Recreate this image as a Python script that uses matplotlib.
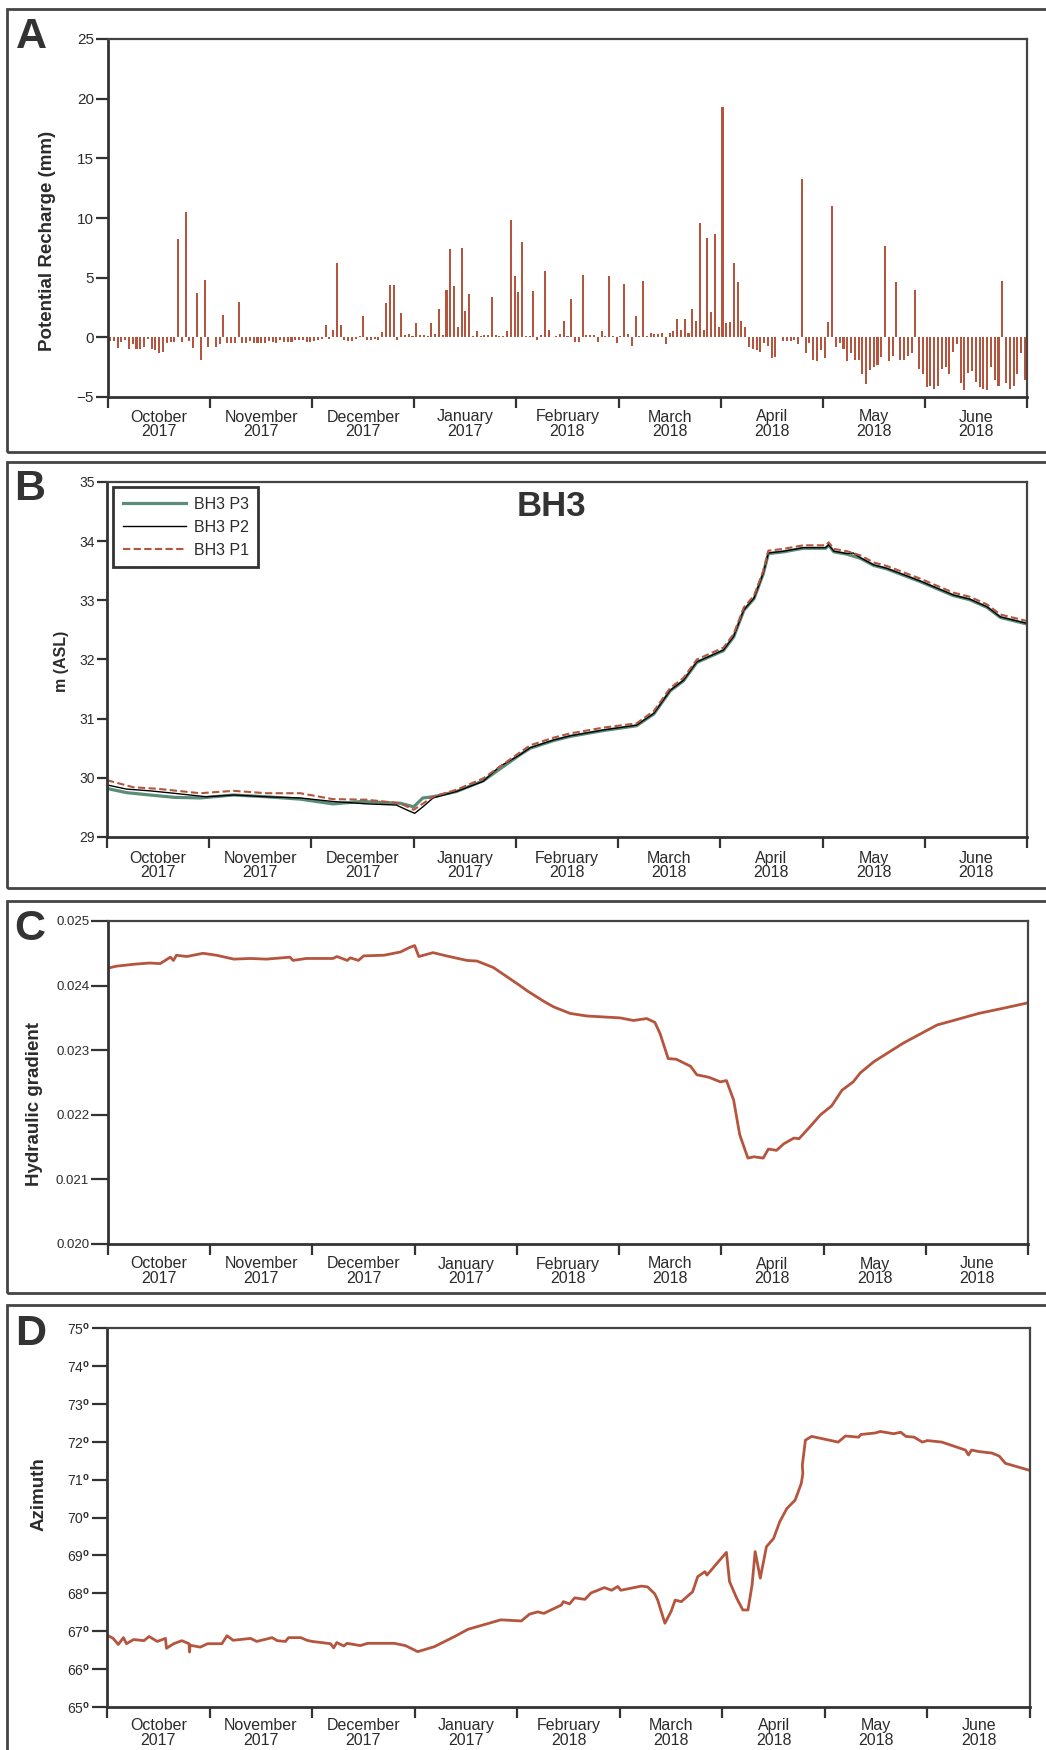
import matplotlib
matplotlib.use("Agg")
import matplotlib.pyplot as plt
import numpy as np
from matplotlib.patches import Rectangle

plt.rcParams['font.family'] = ['Liberation Sans', 'DejaVu Sans']
plt.rcParams['mathtext.fontset'] = 'custom'
plt.rcParams['mathtext.rm'] = 'Liberation Sans'
plt.rcParams['mathtext.bf'] = 'Liberation Sans:bold'

# months on the x axis (one unit = one month, Oct 2017 .. Jun 2018)
months = ['October\n2017', 'November\n2017', 'December\n2017', 'January\n2017',
          'February\n2018', 'March\n2018', 'April\n2018', 'May\n2018', 'June\n2018']

# A: daily potential recharge (mm)
recharge = [
    -0.3, -0.3, -0.9, -0.4, -0.2, -1.0, -0.6, -1.0, -1.0, -0.8,
    -0.1, -1.0, -1.1, -1.3, -1.2, -0.5, -0.4, -0.4, 8.2, -0.4,
    10.5, -0.3, -0.9, 3.7, -1.9, 4.8, -0.8, 0.0, -0.8, -0.6,
    1.9, -0.5, -0.5, -0.5, 3.0, -0.5, -0.5, -0.3, -0.5, -0.5,
    -0.5, -0.5, -0.3, -0.4, -0.5, -0.2, -0.4, -0.4, -0.4, -0.2,
    -0.2, -0.2, -0.4, -0.4, -0.3, -0.2, -0.1, 1.0, -0.1, 0.6,
    6.2, 1.0, -0.2, -0.3, -0.3, -0.1, 0.1, 1.8, -0.2, -0.2,
    -0.1, -0.2, 0.45, 2.9, 4.4, 4.4, -0.2, 2.0, 0.2, 0.25,
    0.15, 1.2, 0.2, 0.2, 0.1, 1.2, 0.3, 2.4, 0.2, 4.0,
    7.4, 4.3, 0.9, 7.5, 2.2, 3.6, 0.15, 0.5, 0.15, 0.2,
    0.2, 3.4, 0.2, 0.15, 0.15, 0.5, 9.8, 5.1, 3.8, 8.0,
    0.1, 0.1, 3.9, -0.2, 0.2, 5.6, 0.6, 0.0, 0.1, 0.3,
    1.4, 0.15, 3.2, -0.35, -0.4, 5.2, 0.2, 0.2, 0.2, -0.35,
    0.5, 0.15, 5.1, 0.15, -0.5, 0.15, 4.5, 0.3, -0.7, 1.8,
    0.15, 4.7, 0.1, 0.35, 0.25, 0.25, 0.4, -0.6, 0.35, 0.55,
    1.5, 0.6, 1.5, 0.4, 2.4, 1.35, 9.6, 0.6, 8.3, 2.1,
    8.7, 0.85, 19.3, 1.2, 1.3, 6.2, 4.65, 1.35, 0.9, -0.8,
    -1.0, -1.1, -1.2, -0.5, -0.7, -1.7, -1.65, 0.0, -0.3, -0.3,
    -0.3, -0.2, -0.6, 13.3, -1.35, -0.5, -1.9, -2.0, -1.1, -1.7,
    1.3, 11.0, -0.85, -0.5, -0.95, -1.95, -1.35, -1.9, -1.9, -3.05,
    -3.95, -2.7, -2.45, -2.3, -1.65, 7.65, -2.0, -1.6, 4.65, -1.9,
    -1.9, -1.55, -1.35, 4.0, -2.65, -3.05, -4.15, -4.05, -4.35, -4.1,
    -2.65, -2.45, -3.05, -1.25, -0.55, -3.85, -4.45, -2.95, -2.85, -3.75,
    -4.15, -4.3, -4.45, -2.45, -3.55, -4.1, 4.75, -3.85, -4.3, -4.1,
    -3.05, -1.3, -3.6]
recharge_days = np.linspace(0.02, 8.98, len(recharge))

# B: groundwater level, m ASL
p2_t = [0.0, 0.19, 0.42, 0.65, 0.97, 1.24, 1.56, 1.89, 2.21, 2.54, 2.83, 2.93, 3.01, 3.09,
        3.19, 3.42, 3.68, 3.84, 4.04, 4.14, 4.37, 4.53, 4.86, 5.18, 5.35, 5.51, 5.64, 5.77,
        6.03, 6.13, 6.23, 6.33, 6.42, 6.47, 6.62, 6.81, 7.03, 7.06, 7.11, 7.24, 7.30, 7.37,
        7.50, 7.63, 7.95, 8.28, 8.44, 8.61, 8.74, 9.0]
p2_h = [29.88, 29.81, 29.78, 29.74, 29.68, 29.71, 29.68, 29.66, 29.60, 29.56, 29.54, 29.46,
        29.40, 29.51, 29.66, 29.77, 29.94, 30.19, 30.39, 30.51, 30.64, 30.71, 30.81, 30.89,
        31.09, 31.48, 31.65, 31.96, 32.16, 32.39, 32.84, 33.04, 33.46, 33.80, 33.83, 33.89,
        33.89, 33.94, 33.83, 33.79, 33.80, 33.72, 33.60, 33.54, 33.33, 33.09, 33.02, 32.89,
        32.72, 32.61]
p1_t = [0.0, 0.26, 0.45, 0.58, 0.91, 1.24, 1.56, 1.89, 2.21, 2.54, 2.87, 3.0, 3.19, 3.42,
        3.68, 4.04, 4.14, 4.37, 4.53, 4.86, 5.18, 5.35, 5.51, 5.64, 5.77, 6.03, 6.13, 6.23,
        6.33, 6.42, 6.47, 6.62, 6.81, 7.03, 7.06, 7.11, 7.24, 7.37, 7.50, 7.63, 7.95, 8.28,
        8.44, 8.61, 8.74, 9.0]
p1_h = [29.96, 29.84, 29.82, 29.80, 29.74, 29.78, 29.74, 29.74, 29.64, 29.63, 29.57, 29.46,
        29.68, 29.80, 29.99, 30.43, 30.55, 30.68, 30.75, 30.85, 30.92, 31.13, 31.52, 31.69,
        32.00, 32.20, 32.43, 32.88, 33.08, 33.50, 33.84, 33.87, 33.93, 33.93, 33.98, 33.87,
        33.83, 33.76, 33.64, 33.58, 33.37, 33.13, 33.06, 32.93, 32.76, 32.65]
p3_t = [0.0, 0.19, 0.42, 0.66, 0.91, 1.24, 1.56, 1.89, 2.21, 2.49, 2.87, 3.0, 3.09, 3.19,
        3.42, 3.68, 4.04, 4.14, 4.37, 4.53, 4.86, 5.18, 5.35, 5.51, 5.64, 5.77, 6.03, 6.13,
        6.23, 6.33, 6.42, 6.47, 6.62, 6.81, 7.03, 7.06, 7.11, 7.24, 7.37, 7.50, 7.63, 7.95,
        8.28, 8.44, 8.61, 8.74, 9.0]
p3_h = [29.82, 29.75, 29.71, 29.67, 29.66, 29.71, 29.68, 29.64, 29.56, 29.60, 29.57, 29.51,
        29.66, 29.68, 29.77, 29.95, 30.39, 30.50, 30.63, 30.70, 30.80, 30.88, 31.08, 31.47,
        31.64, 31.95, 32.15, 32.38, 32.83, 33.03, 33.45, 33.79, 33.82, 33.88, 33.88, 33.93,
        33.82, 33.78, 33.71, 33.59, 33.53, 33.32, 33.08, 33.01, 32.88, 32.71, 32.60]

# C: hydraulic gradient
grad_t = [0.0, 0.08, 0.25, 0.41, 0.51, 0.61, 0.64, 0.67, 0.77, 0.93, 1.06, 1.23, 1.39, 1.55,
          1.78, 1.81, 1.94, 2.2, 2.24, 2.34, 2.37, 2.45, 2.5, 2.7, 2.86, 2.95, 3.0, 3.04,
          3.18, 3.31, 3.51, 3.61, 3.77, 4.03, 4.1, 4.19, 4.27, 4.36, 4.52, 4.68, 5.01, 5.14,
          5.27, 5.35, 5.40, 5.48, 5.56, 5.70, 5.76, 5.88, 5.99, 6.05, 6.12, 6.18, 6.26, 6.32,
          6.41, 6.46, 6.54, 6.61, 6.71, 6.76, 6.87, 6.97, 7.08, 7.18, 7.29, 7.36, 7.49, 7.62,
          7.78, 8.11, 8.27, 8.52, 8.76, 8.99]
grad = [0.02427, 0.02430, 0.02433, 0.02435, 0.02434, 0.02444, 0.02439, 0.02447, 0.02445,
        0.02450, 0.02447, 0.02441, 0.02442, 0.02441, 0.02444, 0.02439, 0.02442, 0.02442,
        0.02445, 0.02439, 0.02443, 0.02439, 0.02446, 0.02447, 0.02452, 0.02459, 0.02462,
        0.02445, 0.02451, 0.02446, 0.02439, 0.02438, 0.02428, 0.02400, 0.02392, 0.02383,
        0.02375, 0.02367, 0.02357, 0.02353, 0.02350, 0.02346, 0.02349, 0.02343, 0.02326,
        0.02287, 0.02286, 0.02275, 0.02262, 0.02258, 0.02251, 0.02253, 0.02223, 0.02169,
        0.02133, 0.02135, 0.02133, 0.02147, 0.02145, 0.02155, 0.02164, 0.02163, 0.02182,
        0.02200, 0.02214, 0.02238, 0.02251, 0.02265, 0.02282, 0.02295, 0.02311, 0.02339,
        0.02346, 0.02357, 0.02365, 0.02373]

# D: flow azimuth (degrees)
azi_t = [0.0, 0.06, 0.11, 0.16, 0.19, 0.26, 0.36, 0.41, 0.49, 0.57, 0.58, 0.65, 0.73, 0.80,
         0.805, 0.81, 0.91, 0.98, 1.12, 1.17, 1.23, 1.40, 1.46, 1.61, 1.66, 1.74, 1.77, 1.89,
         1.95, 2.0, 2.18, 2.21, 2.24, 2.31, 2.34, 2.47, 2.54, 2.80, 2.91, 3.03, 3.19, 3.39,
         3.52, 3.84, 4.04, 4.12, 4.20, 4.26, 4.36, 4.43, 4.45, 4.51, 4.56, 4.66, 4.72, 4.85,
         4.92, 4.98, 5.01, 5.21, 5.27, 5.34, 5.37, 5.44, 5.50, 5.54, 5.60, 5.71, 5.76, 5.83,
         5.85, 5.96, 6.04, 6.07, 6.14, 6.20, 6.25, 6.29, 6.32, 6.37, 6.43, 6.50, 6.56, 6.63,
         6.71, 6.77, 6.785, 6.78, 6.81, 6.87, 7.13, 7.20, 7.33, 7.35, 7.49, 7.54, 7.67, 7.74,
         7.79, 7.87, 7.95, 8.0, 8.14, 8.37, 8.40, 8.43, 8.50, 8.63, 8.70, 8.76, 9.0]
azimuth = [66.90, 66.81, 66.65, 66.83, 66.67, 66.78, 66.75, 66.86, 66.73, 66.81, 66.55, 66.67,
           66.75, 66.67, 66.45, 66.63, 66.58, 66.67, 66.67, 66.88, 66.76, 66.81, 66.73, 66.83,
           66.75, 66.73, 66.83, 66.83, 66.76, 66.73, 66.67, 66.56, 66.70, 66.61, 66.68, 66.62,
           66.68, 66.68, 66.62, 66.46, 66.59, 66.86, 67.05, 67.30, 67.27, 67.45, 67.51, 67.47,
           67.60, 67.69, 67.78, 67.72, 67.88, 67.84, 68.01, 68.15, 68.08, 68.18, 68.08, 68.19,
           68.17, 67.99, 67.82, 67.21, 67.52, 67.82, 67.78, 68.04, 68.44, 68.57, 68.48, 68.83,
           69.08, 68.31, 67.87, 67.56, 67.56, 68.22, 69.10, 68.40, 69.23, 69.45, 69.89, 70.24,
           70.46, 70.90, 71.16, 71.38, 72.04, 72.14, 71.99, 72.15, 72.12, 72.19, 72.23, 72.27,
           72.21, 72.25, 72.14, 72.12, 71.99, 72.03, 71.99, 71.78, 71.65, 71.78, 71.74, 71.70,
           71.62, 71.43, 71.24]

red = '#b5553e'
green = '#5b8c7a'
dark = '#333333'
txt = '#2b2b2b'

W, H = 1046, 1750
fig = plt.figure(figsize=(W / 100, H / 100), dpi=100)


def px_axes(l, t, r, b):
    return fig.add_axes([l / W, 1 - b / H, (r - l) / W, (b - t) / H])


def style(ax, ylen, ysize, xpad):
    ax.set_xlim(0, 9)
    ax.set_xticks(range(10))
    ax.set_xticklabels([])
    ax.set_xticks(np.arange(9) + 0.5, minor=True)
    ax.set_xticklabels(months, minor=True)
    for t in ax.get_xticklabels(minor=True):
        t.set_linespacing(0.95)
    ax.tick_params(axis='x', which='major', length=8, width=1.6, color=dark)
    ax.tick_params(axis='x', which='minor', length=0, pad=xpad, labelsize=11.5, labelcolor=txt)
    ax.tick_params(axis='y', length=ylen, width=1.6, color=dark, labelsize=ysize,
                   labelcolor=txt, pad=1.5)
    for s in ['left', 'bottom']:
        ax.spines[s].set_linewidth(2.0)
        ax.spines[s].set_color(dark)
    for s in ['top', 'right']:
        ax.spines[s].set_linewidth(1.6)
        ax.spines[s].set_color('#444444')


def frame(top, bottom):
    fig.add_artist(Rectangle((7 / W, 1 - bottom / H), 1.2, (bottom - top) / H,
                             transform=fig.transFigure, fill=False, lw=2.0,
                             ec='#444444', clip_on=False))


def letter(x, y, s):
    fig.text(x / W, 1 - y / H, s, fontsize=31, fontweight='bold', color=dark,
             va='baseline', ha='left')


def ylab(ax, x, y, s, size):
    ax.text(x, y, s, transform=ax.transAxes, rotation=90, ha='center', va='center',
            fontsize=size, fontweight='bold', color=txt)


frame(9, 452)
frame(462, 888)
frame(901, 1293)
frame(1305, 1770)

# ---- A
axA = px_axes(108, 39, 1027, 397)
axA.bar(recharge_days, recharge, width=0.02, color=red, edgecolor='none')
axA.set_ylim(-5, 25)
axA.set_yticks([-5, 0, 5, 10, 15, 20, 25])
style(axA, 8.5, 11, 9)
ylab(axA, -0.066, 0.436, 'Potential Recharge (mm)', 13.5)
letter(16, 48, 'A')

# ---- B
axB = px_axes(107, 482, 1027, 837)
axB.plot(p3_t, p3_h, color=green, lw=2.3, label='BH3 P3')
axB.plot(p2_t, p2_h, color='black', lw=1.0, label='BH3 P2')
axB.plot(p1_t, p1_h, color=red, lw=1.5, dashes=(3.5, 1.6), label='BH3 P1')
axB.set_ylim(29, 35)
axB.set_yticks(range(29, 36))
style(axB, 7, 10, 10)
ylab(axB, -0.049, 0.496, 'm (ASL)', 11.5)
axB.text(0.483, 0.93, 'BH3', transform=axB.transAxes, ha='center', va='center',
         fontsize=25, fontweight='bold', color=dark)
leg = axB.legend(loc='upper left', bbox_to_anchor=(0.0065, 0.986), borderaxespad=0,
                 fontsize=11.5, handlelength=4, handletextpad=0.45, labelspacing=0.5,
                 borderpad=0.6, fancybox=False, framealpha=1)
leg.get_frame().set_edgecolor(dark)
leg.get_frame().set_linewidth(2.0)
for t in leg.get_texts():
    t.set_color(txt)
letter(14, 500, 'B')

# ---- C
axC = px_axes(108, 921, 1028, 1244)
axC.plot(grad_t, grad, color=red, lw=2.0)
axC.set_ylim(0.020, 0.025)
axC.set_yticks([0.020, 0.021, 0.022, 0.023, 0.024, 0.025])
axC.set_yticklabels(['%.3f' % v for v in axC.get_yticks()])
style(axC, 12, 9.5, 9)
ylab(axC, -0.080, 0.433, 'Hydraulic gradient', 13.5)
letter(14, 940, 'C')

# ---- D
axD = px_axes(107, 1328, 1030, 1707)
axD.plot(azi_t, azimuth, color=red, lw=2.0)
axD.set_ylim(65, 75)
axD.set_yticks(range(65, 76))
axD.set_yticklabels([r'%d$^{\mathbf{o}}$' % v for v in range(65, 76)])
style(axD, 11, 10, 8)
ylab(axD, -0.074, 0.562, 'Azimuth', 13.5)
letter(15, 1345, 'D')

fig.savefig('out.png', dpi=100)
